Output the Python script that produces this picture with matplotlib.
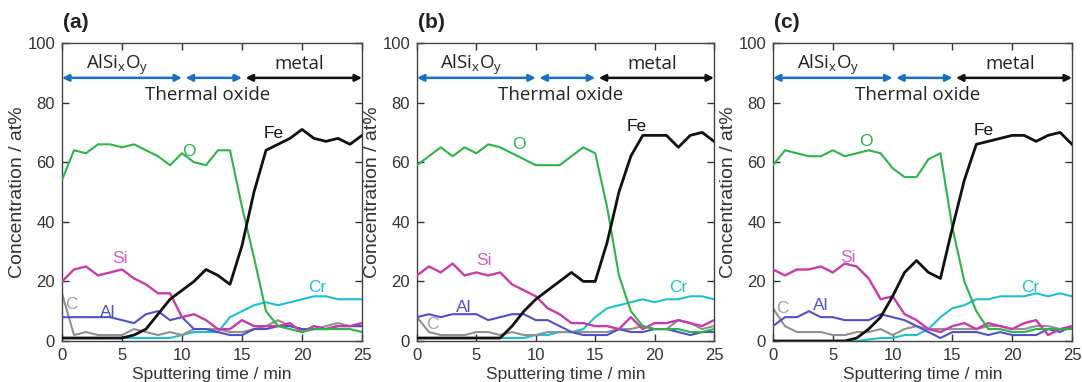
import matplotlib
matplotlib.use("Agg")
import matplotlib.pyplot as plt

t = list(range(26))

# Panel (a)
fe_a = [1, 1, 1, 1, 1, 1, 2, 4, 9, 14, 17, 20, 24, 22, 19, 32, 50, 64, 66, 68, 71, 68, 67, 68, 66, 69]
o_a = [54, 64, 63, 66, 66, 65, 66, 64, 62, 59, 63, 60, 59, 64, 64, 45, 28, 10, 5, 4, 3, 4, 4, 4, 4, 3]
si_a = [20, 24, 25, 22, 23, 24, 21, 19, 16, 16, 8, 9, 7, 4, 4, 7, 5, 5, 5, 6, 3, 5, 4, 5, 5, 6]
al_a = [8, 8, 8, 8, 8, 7, 6, 9, 10, 7, 8, 4, 4, 3, 2, 2, 4, 4, 5, 5, 4, 4, 4, 5, 5, 5]
c_a = [16, 2, 3, 2, 2, 2, 4, 3, 2, 3, 2, 4, 4, 4, 3, 3, 4, 5, 7, 5, 4, 4, 5, 6, 5, 5]
cr_a = [1, 1, 1, 1, 1, 1, 1, 1, 1, 1, 2, 3, 3, 3, 8, 10, 12, 13, 12, 13, 14, 15, 15, 14, 14, 14]

# Panel (b)
fe_b = [1, 1, 1, 1, 1, 1, 1, 1, 5, 10, 14, 17, 20, 23, 20, 20, 33, 50, 62, 69, 69, 69, 65, 69, 70, 67]
o_b = [59, 62, 65, 62, 65, 63, 66, 65, 63, 61, 59, 59, 59, 62, 65, 63, 45, 22, 10, 5, 4, 4, 4, 3, 3, 4]
si_b = [22, 25, 23, 26, 22, 23, 22, 23, 19, 17, 15, 11, 9, 6, 6, 5, 5, 4, 8, 4, 6, 6, 7, 6, 5, 7]
al_b = [8, 9, 8, 9, 9, 9, 7, 8, 9, 9, 7, 7, 5, 3, 2, 2, 2, 4, 3, 3, 4, 4, 3, 2, 3, 3]
c_b = [8, 3, 2, 2, 2, 3, 3, 2, 3, 2, 2, 3, 3, 3, 3, 3, 3, 4, 4, 5, 4, 4, 7, 6, 4, 5]
cr_b = [1, 1, 1, 1, 1, 1, 1, 1, 1, 1, 2, 2, 3, 3, 4, 8, 11, 12, 13, 14, 13, 14, 14, 15, 15, 14]

# Panel (c)
fe_c = [0, 0, 0, 0, 0, 0, 0, 1, 4, 8, 15, 23, 27, 23, 21, 38, 54, 66, 67, 68, 69, 69, 67, 69, 70, 66]
o_c = [59, 64, 63, 62, 62, 64, 62, 63, 64, 63, 58, 55, 55, 61, 63, 38, 20, 10, 4, 4, 3, 3, 4, 4, 4, 4]
si_c = [24, 22, 24, 24, 25, 23, 26, 25, 21, 14, 15, 9, 7, 4, 3, 5, 6, 4, 6, 5, 4, 6, 7, 2, 4, 5]
al_c = [5, 8, 8, 10, 8, 8, 7, 7, 7, 9, 8, 7, 5, 3, 1, 3, 3, 3, 2, 3, 2, 2, 2, 4, 3, 5]
c_c = [11, 5, 3, 3, 3, 2, 2, 3, 3, 4, 2, 4, 5, 4, 4, 4, 4, 4, 5, 5, 4, 4, 5, 5, 4, 4]
cr_c = [0, 0, 0, 0, 0, 0, 0, 0, 0.5, 1, 1, 2, 2, 4, 8, 11, 12, 14, 14, 15, 15, 15, 16, 15, 16, 15]

panel_labels = ["(a)", "(b)", "(c)"]
xticks = [0, 5, 10, 15, 20, 25]
yticks = [0, 20, 40, 60, 80, 100]

C_FE = "#111111"
C_O = "#2db34a"
C_SI = "#c83ca8"
C_AL = "#5050c8"
C_C = "#909090"
C_CR = "#1fbfd0"
C_BLUE = "#1a6fc0"

panels = [
    dict(fe=fe_a, o=o_a, si=si_a, al=al_a, c=c_a, cr=cr_a,
         lab=dict(Fe=(17.6, 69.5), O=(10.6, 63.5), Si=(4.8, 27.8), Al=(3.85, 9.6), C=(0.8, 12.4), Cr=(21.3, 17.8))),
    dict(fe=fe_b, o=o_b, si=si_b, al=al_b, c=c_b, cr=cr_b,
         lab=dict(Fe=(18.5, 72), O=(8.6, 66), Si=(5.6, 27), Al=(3.9, 11.4), C=(1.3, 5.5), Cr=(22.0, 18))),
    dict(fe=fe_c, o=o_c, si=si_c, al=al_c, c=c_c, cr=cr_c,
         lab=dict(Fe=(17.6, 70.5), O=(7.8, 67), Si=(6.3, 28), Al=(4.0, 12), C=(0.75, 11), Cr=(21.5, 18))),
]

lab_colors = dict(Fe=C_FE, O=C_O, Si="#d060c0", Al=C_AL, C="#a0a0a0", Cr=C_CR)

fig = plt.figure(figsize=(10.82, 3.82), dpi=100)
plt.rcParams['font.family'] = ['Liberation Sans', 'DejaVu Sans']

lefts = [62 / 1082, 417 / 1082, 773 / 1082]
widths = [300 / 1082, 297 / 1082, 299 / 1082]
bottom = (382 - 341) / 382
height = 298 / 382

for i, p in enumerate(panels):
    ax = fig.add_axes([lefts[i], bottom, widths[i], height])
    ax.plot(t, p["cr"], color=C_CR, lw=1.5, zorder=2)
    ax.plot(t, p["c"], color=C_C, lw=1.5, zorder=2)
    ax.plot(t, p["al"], color=C_AL, lw=1.5, zorder=3)
    ax.plot(t, p["si"], color=C_SI, lw=1.7, zorder=3)
    ax.plot(t, p["o"], color=C_O, lw=1.5, zorder=4)
    ax.plot(t, p["fe"], color=C_FE, lw=2.0, zorder=5)
    for name, (x, y) in p["lab"].items():
        ax.text(x, y, name, color=lab_colors[name], fontsize=12.5, ha="center", va="center", zorder=6)

    ax.set_xlim(0, 25)
    ax.set_ylim(0, 100)
    ax.set_xticks(xticks)
    ax.set_yticks(yticks)
    ax.tick_params(direction="in", top=True, right=True, length=5, width=1,
                   labelsize=12, colors="#333333", labelcolor="#333333", pad=5)
    for s in ax.spines.values():
        s.set_color("#444444")
        s.set_linewidth(1.0)
    ax.set_xlabel("Sputtering time / min", fontsize=12.5, color="#333333", labelpad=3)
    ax.set_ylabel("Concentration / at%", fontsize=14, color="#333333", labelpad=1)

    # region arrows
    ay = 88.3
    ax.annotate("", xy=(0, ay), xytext=(10, ay),
                arrowprops=dict(arrowstyle="<|-|>", color=C_BLUE, lw=1.8, mutation_scale=10,
                                shrinkA=0, shrinkB=0))
    ax.annotate("", xy=(10.3, ay), xytext=(15, ay),
                arrowprops=dict(arrowstyle="<|-|>", color=C_BLUE, lw=1.8, mutation_scale=10,
                                shrinkA=0, shrinkB=0))
    ax.annotate("", xy=(15.3, ay), xytext=(25, ay),
                arrowprops=dict(arrowstyle="<|-|>", color=C_FE, lw=1.8, mutation_scale=10,
                                shrinkA=0, shrinkB=0))
    ax.text(4.6, 92.8, r"AlSi$_\mathregular{x}$O$_\mathregular{y}$", fontsize=13.5,
            family="Open Sans", ha="center", va="center", color="#222222")
    ax.text(19.8, 92.8, "metal", fontsize=13.5, family="Open Sans", ha="center", va="center", color="#222222")
    ax.text(12.1, 82.5, "Thermal oxide", fontsize=13.5, family="Open Sans", ha="center", va="center",
            color="#222222")

    fig.text(lefts[i] + 1 / 1082, 1 - 22 / 382, panel_labels[i], fontsize=15, fontweight="bold",
             ha="left", va="center", color="#222222")

fig.savefig("out.png", dpi=100)
